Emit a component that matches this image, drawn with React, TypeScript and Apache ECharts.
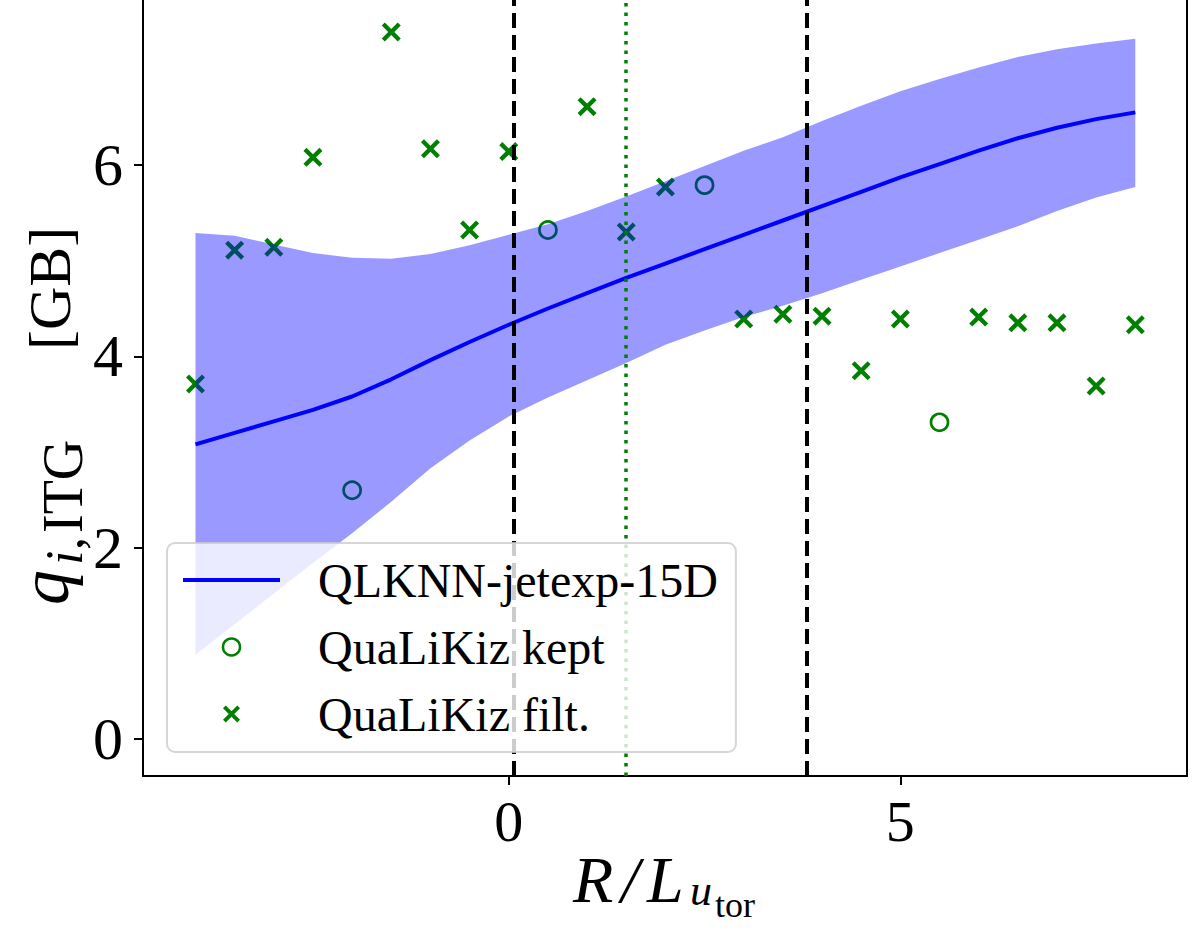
import React, { useEffect, useRef } from "react";
import * as echarts from "echarts";

// ---- data ----
const gridX = [-4, -3.5, -3, -2.5, -2, -1.5, -1, -0.5, 0, 0.5, 1, 1.5, 2, 2.5, 3, 3.5, 4, 4.5, 5, 5.5, 6, 6.5, 7, 7.5, 8];
const meanQ = [3.08, 3.2, 3.32, 3.44, 3.58, 3.76, 3.96, 4.15, 4.33, 4.5, 4.66, 4.82, 4.97, 5.12, 5.27, 5.42, 5.57, 5.72, 5.87, 6.01, 6.15, 6.28, 6.39, 6.48, 6.55];
const upperQ = [5.29, 5.26, 5.17, 5.08, 5.03, 5.02, 5.07, 5.16, 5.27, 5.38, 5.52, 5.67, 5.83, 5.99, 6.15, 6.29, 6.46, 6.62, 6.77, 6.9, 7.02, 7.13, 7.21, 7.27, 7.32];
const lowerQ = [0.88, 1.2, 1.52, 1.84, 2.15, 2.48, 2.83, 3.12, 3.37, 3.57, 3.75, 3.93, 4.12, 4.27, 4.41, 4.53, 4.66, 4.8, 4.94, 5.08, 5.22, 5.36, 5.52, 5.66, 5.77];

const keptX = [-2, 0.5, 2.5, 5.5];
const keptQ = [2.6, 5.32, 5.79, 3.31];
const filtX = [-4, -3.5, -3, -2.5, -1.5, -1, -0.5, 0, 1, 1.5, 2, 3, 3.5, 4, 4.5, 5, 6, 6.5, 7, 7.5, 8];
const filtQ = [3.71, 5.11, 5.14, 6.08, 7.39, 6.17, 5.32, 6.14, 6.61, 5.3, 5.77, 4.39, 4.44, 4.42, 3.85, 4.39, 4.41, 4.35, 4.35, 3.69, 4.33];

const blackDashedX = [0.055, 3.8];
const greenDottedX = [1.5];

const xTicks = [0, 5];
const yTicks = [0, 2, 4, 6];
const xRange = [-4.67, 8.66];
const yRange = [-0.387, 7.725];

const seriesNames = ["QLKNN-jetexp-15D", "QuaLiKiz kept", "QuaLiKiz filt."];

// ---- styling ----
const SERIF = "'Liberation Serif', 'DejaVu Serif', serif";
const GREEN = "#008000";
const XPATH = "path://M0,16L16,0L50,34L84,0L100,16L66,50L100,84L84,100L50,66L16,100L0,84L34,50Z";
const LINEICON = "path://M0,0H100V4H0Z";

function txt(text: string, x: number, baseline: number, fs: number, italic: boolean) {
  return {
    type: "text",
    x,
    y: baseline - 0.3375 * fs,
    style: {
      text,
      fill: "#000",
      fontFamily: SERIF,
      fontSize: fs,
      fontStyle: italic ? "italic" : "normal",
      align: "left",
      verticalAlign: "middle",
    },
  };
}

// rotated text (reads bottom to top): startY is screen y where text begins, baseX is screen x of baseline
function rtxt(text: string, startY: number, baseX: number, fs: number, italic: boolean) {
  return {
    type: "text",
    x: -startY,
    y: baseX - 0.3375 * fs,
    style: {
      text,
      fill: "#000",
      fontFamily: SERIF,
      fontSize: fs,
      fontStyle: italic ? "italic" : "normal",
      align: "left",
      verticalAlign: "middle",
    },
  };
}

export default function App() {
  const ref = useRef<HTMLDivElement>(null);
  useEffect(() => {
    const chart = echarts.init(ref.current!, undefined, { renderer: "svg" });
    const axisLineStyle = { color: "#000", width: 2 };
    const option: any = {
      animation: false,
      backgroundColor: "#fff",
      grid: { left: 143, right: 9, top: 0, bottom: 154 },
      xAxis: {
        type: "value",
        min: xRange[0],
        max: xRange[1],
        axisLine: { show: true, onZero: false, lineStyle: axisLineStyle },
        axisTick: { show: true, length: 9, lineStyle: axisLineStyle, customValues: xTicks },
        axisLabel: { customValues: xTicks, fontFamily: SERIF, fontSize: 58, color: "#000", margin: 16 },
        splitLine: { show: false },
      },
      yAxis: [
        {
          type: "value",
          min: yRange[0],
          max: yRange[1],
          axisLine: { show: true, onZero: false, lineStyle: axisLineStyle },
          axisTick: { show: true, length: 9, lineStyle: axisLineStyle, customValues: yTicks },
          axisLabel: { customValues: yTicks, fontFamily: SERIF, fontSize: 60, color: "#000", margin: 20 },
          splitLine: { show: false },
        },
        {
          type: "value",
          position: "right",
          min: yRange[0],
          max: yRange[1],
          axisLine: { show: true, onZero: false, lineStyle: axisLineStyle },
          axisTick: { show: false },
          axisLabel: { show: false },
          splitLine: { show: false },
        },
      ],
      legend: {
        data: [
          { name: seriesNames[0], icon: LINEICON, itemStyle: { color: "#0000ff", borderWidth: 0 } },
          {
            name: seriesNames[1],
            icon: "circle",
            itemStyle: { color: "rgba(0,0,0,0)", borderColor: GREEN, borderWidth: 2.5, opacity: 1 },
          },
          { name: seriesNames[2], icon: XPATH, itemStyle: { color: GREEN, borderWidth: 0, opacity: 1 } },
        ],
        orient: "vertical",
        left: 167,
        top: 543,
        itemWidth: 97,
        itemHeight: 17,
        itemGap: 19,
        padding: [13, 18, 14, 16],
        backgroundColor: "rgba(255,255,255,0.8)",
        borderColor: "rgba(204,204,204,0.8)",
        borderWidth: 2,
        borderRadius: 8,
        selectedMode: false,
        z: 10,
        textStyle: { fontFamily: SERIF, fontSize: 48, color: "#000", padding: [0, 0, 0, 33] },
      },
      series: [
        {
          name: seriesNames[2],
          type: "scatter",
          z: 1,
          symbol: XPATH,
          symbolSize: 19,
          itemStyle: { color: GREEN, opacity: 1 },
          data: filtX.map((x, i) => [x, filtQ[i]]),
        },
        {
          name: seriesNames[1],
          type: "scatter",
          z: 1,
          symbol: "circle",
          symbolSize: 17,
          itemStyle: { color: "rgba(0,0,0,0)", borderColor: GREEN, borderWidth: 2.7, opacity: 1 },
          data: keptX.map((x, i) => [x, keptQ[i]]),
        },
        {
          name: "band",
          type: "custom",
          z: 2,
          silent: true,
          data: [[gridX[0], lowerQ[0]]],
          renderItem: (_params: any, api: any) => {
            const pts: number[][] = [];
            gridX.forEach((x, i) => pts.push(api.coord([x, upperQ[i]])));
            for (let i = gridX.length - 1; i >= 0; i--) pts.push(api.coord([gridX[i], lowerQ[i]]));
            return {
              type: "polygon",
              shape: { points: pts },
              style: { fill: "rgba(0,0,255,0.4)", stroke: "none" },
            };
          },
        },
        {
          name: seriesNames[0],
          type: "line",
          z: 3,
          symbol: "none",
          lineStyle: { color: "#0000ff", width: 4 },
          itemStyle: { color: "#0000ff" },
          data: gridX.map((x, i) => [x, meanQ[i]]),
          markLine: {
            silent: true,
            symbol: ["none", "none"],
            label: { show: false },
            data: [
              ...blackDashedX.map((v) => ({ xAxis: v, lineStyle: { color: "#000", width: 4, type: [15, 7] } })),
              ...greenDottedX.map((v) => ({ xAxis: v, lineStyle: { color: GREEN, width: 3.5, type: [3.5, 6] } })),
            ],
          },
        },
      ],
      graphic: [
        txt("R", 573, 902, 66, true),
        txt("/", 621, 902, 66, true),
        txt("L", 647, 902, 66, true),
        txt("u", 690, 905, 44, true),
        txt("tor", 715, 917, 36, false),
        {
          type: "group",
          x: 0,
          y: 0,
          rotation: Math.PI / 2,
          children: [
            rtxt("q", 605, 68, 70, true),
            rtxt("i", 565, 82, 52, true),
            rtxt(",", 550, 82, 52, false),
            rtxt("ITG", 533, 82, 56, false),
            rtxt("[GB]", 350, 70, 60, false),
          ],
        },
      ],
    };
    chart.setOption(option);
    return () => chart.dispose();
  }, []);
  return (
    <div
      ref={ref}
      style={{ position: "absolute", left: 0, top: 0, width: 1196, height: 930, background: "#fff" }}
    />
  );
}
